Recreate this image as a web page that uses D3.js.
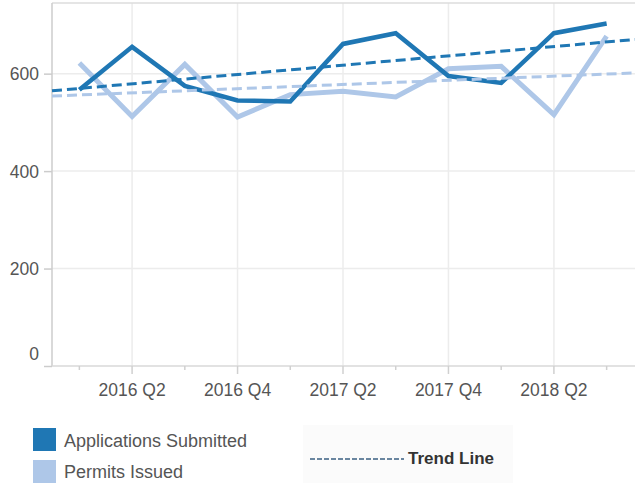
<!DOCTYPE html>
<html>
<head>
<meta charset="utf-8">
<script src="https://cdn.jsdelivr.net/npm/d3@7"></script>
<style>
  body { margin: 0; background: #fff; }
  svg text { font-family: "Liberation Sans", Arial, sans-serif; }
</style>
</head>
<body>
<script>
// data
var quarters = ["2016 Q1", "2016 Q2", "2016 Q3", "2016 Q4",
                "2017 Q1", "2017 Q2", "2017 Q3", "2017 Q4",
                "2018 Q1", "2018 Q2", "2018 Q3"];
var applications = [567, 655, 575, 545, 543, 661, 683, 595, 581, 683, 703];
var permits = [622, 512, 619, 511, 557, 564, 552, 610, 615, 516, 677];
var yTicks = [0, 200, 400, 600];
var seriesNames = ["Applications Submitted", "Permits Issued"];
var seriesColors = ["#1f77b4", "#aec7e8"];

var w = 635;
var h = 483;
var plotL = 52, plotR = 635, plotT = 3, plotB = 366;

var svg = d3.select("body").append("svg")
    .attr("width", w)
    .attr("height", h);

var x = d3.scaleBand().domain(quarters).range([53, 633]);
var y = d3.scaleLinear().domain([0, 745]).range([plotB, plotT]);

function cx(q) { return x(q) + x.bandwidth() / 2; }

// grid
svg.append("g").selectAll("line")
    .data(yTicks.slice(1))
    .enter().append("line")
    .attr("x1", plotL).attr("x2", plotR)
    .attr("y1", function (d) { return y(d); })
    .attr("y2", function (d) { return y(d); })
    .attr("stroke", "#ececec")
    .attr("stroke-width", 1.5);

var major = quarters.filter(function (q, i) { return i % 2 == 1; });
var minor = quarters.filter(function (q, i) { return i % 2 == 0; });

svg.append("g").selectAll("line")
    .data(major)
    .enter().append("line")
    .attr("x1", cx).attr("x2", cx)
    .attr("y1", plotT).attr("y2", plotB)
    .attr("stroke", "#ececec")
    .attr("stroke-width", 1.5);

// top border
svg.append("line")
    .attr("x1", plotL).attr("x2", plotR)
    .attr("y1", plotT).attr("y2", plotT)
    .attr("stroke", "#dcdcdc").attr("stroke-width", 1.5);

// y axis
var yAxis = svg.append("g")
    .attr("transform", "translate(" + plotL + ",0)")
    .call(d3.axisLeft(y).tickValues(yTicks).tickSize(8).tickPadding(5));
yAxis.select(".domain").attr("stroke", "#cccccc").attr("stroke-width", 1.5)
    .attr("d", "M0," + plotT + "V" + plotB);
yAxis.selectAll(".tick line").attr("stroke", "#cccccc").attr("stroke-width", 1.5);
yAxis.selectAll(".tick text")
    .attr("fill", "#555")
    .attr("font-size", 17.5)
    .attr("font-family", "Liberation Sans, Arial, sans-serif")
    .attr("dy", function (d) { return d == 0 ? "-0.35em" : "0.35em"; });

// x axis
var xAxis = svg.append("g")
    .attr("transform", "translate(0," + plotB + ")")
    .call(d3.axisBottom(x).tickValues(major).tickSize(8).tickPadding(10));
xAxis.select(".domain").attr("stroke", "#d8d8d8").attr("stroke-width", 1.5)
    .attr("d", "M" + plotL + ",0H" + plotR);
xAxis.selectAll(".tick line").attr("stroke", "#d0d0d0").attr("stroke-width", 1.5);
xAxis.selectAll(".tick text")
    .attr("fill", "#555")
    .attr("font-size", 17.5)
    .attr("font-family", "Liberation Sans, Arial, sans-serif");

svg.append("g").selectAll("line")
    .data(minor)
    .enter().append("line")
    .attr("x1", cx).attr("x2", cx)
    .attr("y1", plotB).attr("y2", plotB + 4)
    .attr("stroke", "#d0d0d0")
    .attr("stroke-width", 1.5);

// series lines
var line = d3.line()
    .x(function (d, i) { return cx(quarters[i]); })
    .y(function (d) { return y(d); });

svg.append("path")
    .datum(permits)
    .attr("d", line)
    .attr("fill", "none")
    .attr("stroke", seriesColors[1])
    .attr("stroke-width", 5);

svg.append("path")
    .datum(applications)
    .attr("d", line)
    .attr("fill", "none")
    .attr("stroke", seriesColors[0])
    .attr("stroke-width", 4.5);

// trend lines (least squares on quarter index)
function trend(vals) {
    var n = vals.length, mx = (n - 1) / 2, my = d3.mean(vals);
    var sxy = 0, sxx = 0;
    vals.forEach(function (v, i) { sxy += (i - mx) * (v - my); sxx += (i - mx) * (i - mx); });
    var b = sxy / sxx;
    var step = x.step(), x0 = cx(quarters[0]);
    return [plotL, plotR].map(function (px) {
        var idx = (px - x0) / step;
        return [px, y(my + b * (idx - mx))];
    });
}

[permits, applications].forEach(function (vals, k) {
    svg.append("path")
        .datum(trend(vals))
        .attr("d", d3.line())
        .attr("fill", "none")
        .attr("stroke", k == 0 ? seriesColors[1] : seriesColors[0])
        .attr("stroke-width", 3)
        .attr("stroke-dasharray", "10,5");
});

// legend
var legend = svg.append("g");
seriesNames.forEach(function (name, i) {
    legend.append("rect")
        .attr("x", 33).attr("y", 428 + i * 32)
        .attr("width", 23).attr("height", 23)
        .attr("fill", seriesColors[i]);
    legend.append("text")
        .attr("x", 64).attr("y", 440.5 + i * 31)
        .attr("dy", "0.35em")
        .attr("font-size", 18)
        .attr("fill", "#555")
        .text(name);
});

var tl = svg.append("g");
tl.append("rect")
    .attr("x", 303).attr("y", 425).attr("width", 210).attr("height", 58)
    .attr("fill", "#fbfbfb");
tl.append("line")
    .attr("x1", 310).attr("x2", 404)
    .attr("y1", 459).attr("y2", 459)
    .attr("stroke", "#6a86a0")
    .attr("stroke-width", 2)
    .attr("stroke-dasharray", "5,2");
tl.append("text")
    .attr("x", 408).attr("y", 458)
    .attr("dy", "0.35em")
    .attr("font-size", 17)
    .attr("font-weight", "bold")
    .attr("fill", "#333")
    .attr("textLength", 86)
    .text("Trend Line");
</script>
</body>
</html>
